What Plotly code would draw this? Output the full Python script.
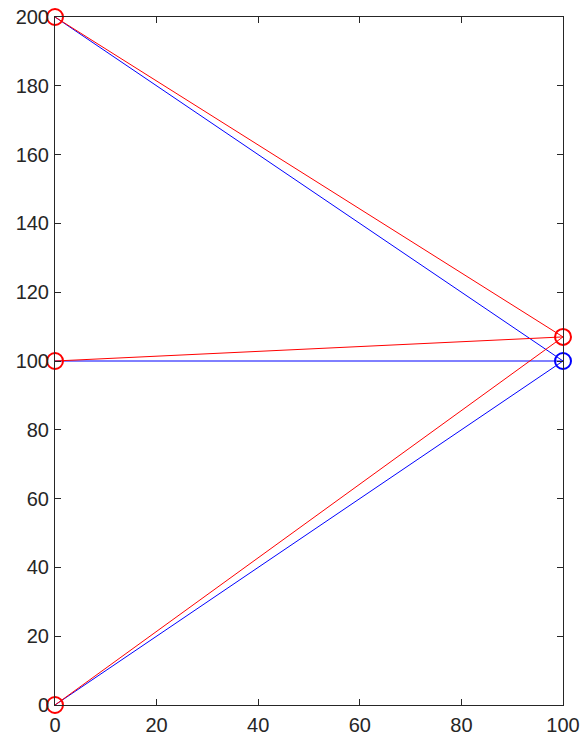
import plotly.graph_objects as go

# Data
left_x = [0, 0, 0]
left_y = [0, 100, 200]
blue_end = (100, 100)
red_end = (100, 107)
x_ticks = [0, 20, 40, 60, 80, 100]
y_ticks = [0, 20, 40, 60, 80, 100, 120, 140, 160, 180, 200]

fig = go.Figure()

def add_lines(end, color):
    xs, ys = [], []
    for x0, y0 in zip(left_x, left_y):
        xs += [x0, end[0], None]
        ys += [y0, end[1], None]
    fig.add_trace(go.Scatter(x=xs, y=ys, mode="lines",
                             line=dict(color=color, width=1),
                             showlegend=False, hoverinfo="skip"))

def add_marks(xs, ys, color):
    fig.add_trace(go.Scatter(x=xs, y=ys, mode="markers",
                             marker=dict(symbol="circle-open", size=16,
                                         color=color, line=dict(width=2, color=color)),
                             showlegend=False, cliponaxis=False))

add_lines(blue_end, "#0000ff")
add_marks([blue_end[0]], [blue_end[1]], "#0000ff")
add_lines(red_end, "#ff0000")
add_marks(left_x + [red_end[0]], left_y + [red_end[1]], "#ff0000")

axis_common = dict(showgrid=False, zeroline=False, showline=True, linecolor="#262626",
                   linewidth=1, mirror="ticks", ticks="inside", ticklen=6,
                   automargin=False,
                   tickcolor="#262626", tickfont=dict(size=20, color="#262626",
                                                      family="Liberation Sans, Arial, sans-serif"))

fig.update_xaxes(range=[0, 100], tickvals=x_ticks, ticklabelstandoff=2, **axis_common)
fig.update_yaxes(range=[0, 200], tickvals=y_ticks, ticklabelstandoff=1, **axis_common)

fig.update_layout(width=582, height=738, margin=dict(l=55, r=19, t=17, b=33),
                  plot_bgcolor="white", paper_bgcolor="white")

fig.write_html("out.html", config={"displayModeBar": False},
               post_script="document.body.style.margin='0';document.body.style.padding='0';")
